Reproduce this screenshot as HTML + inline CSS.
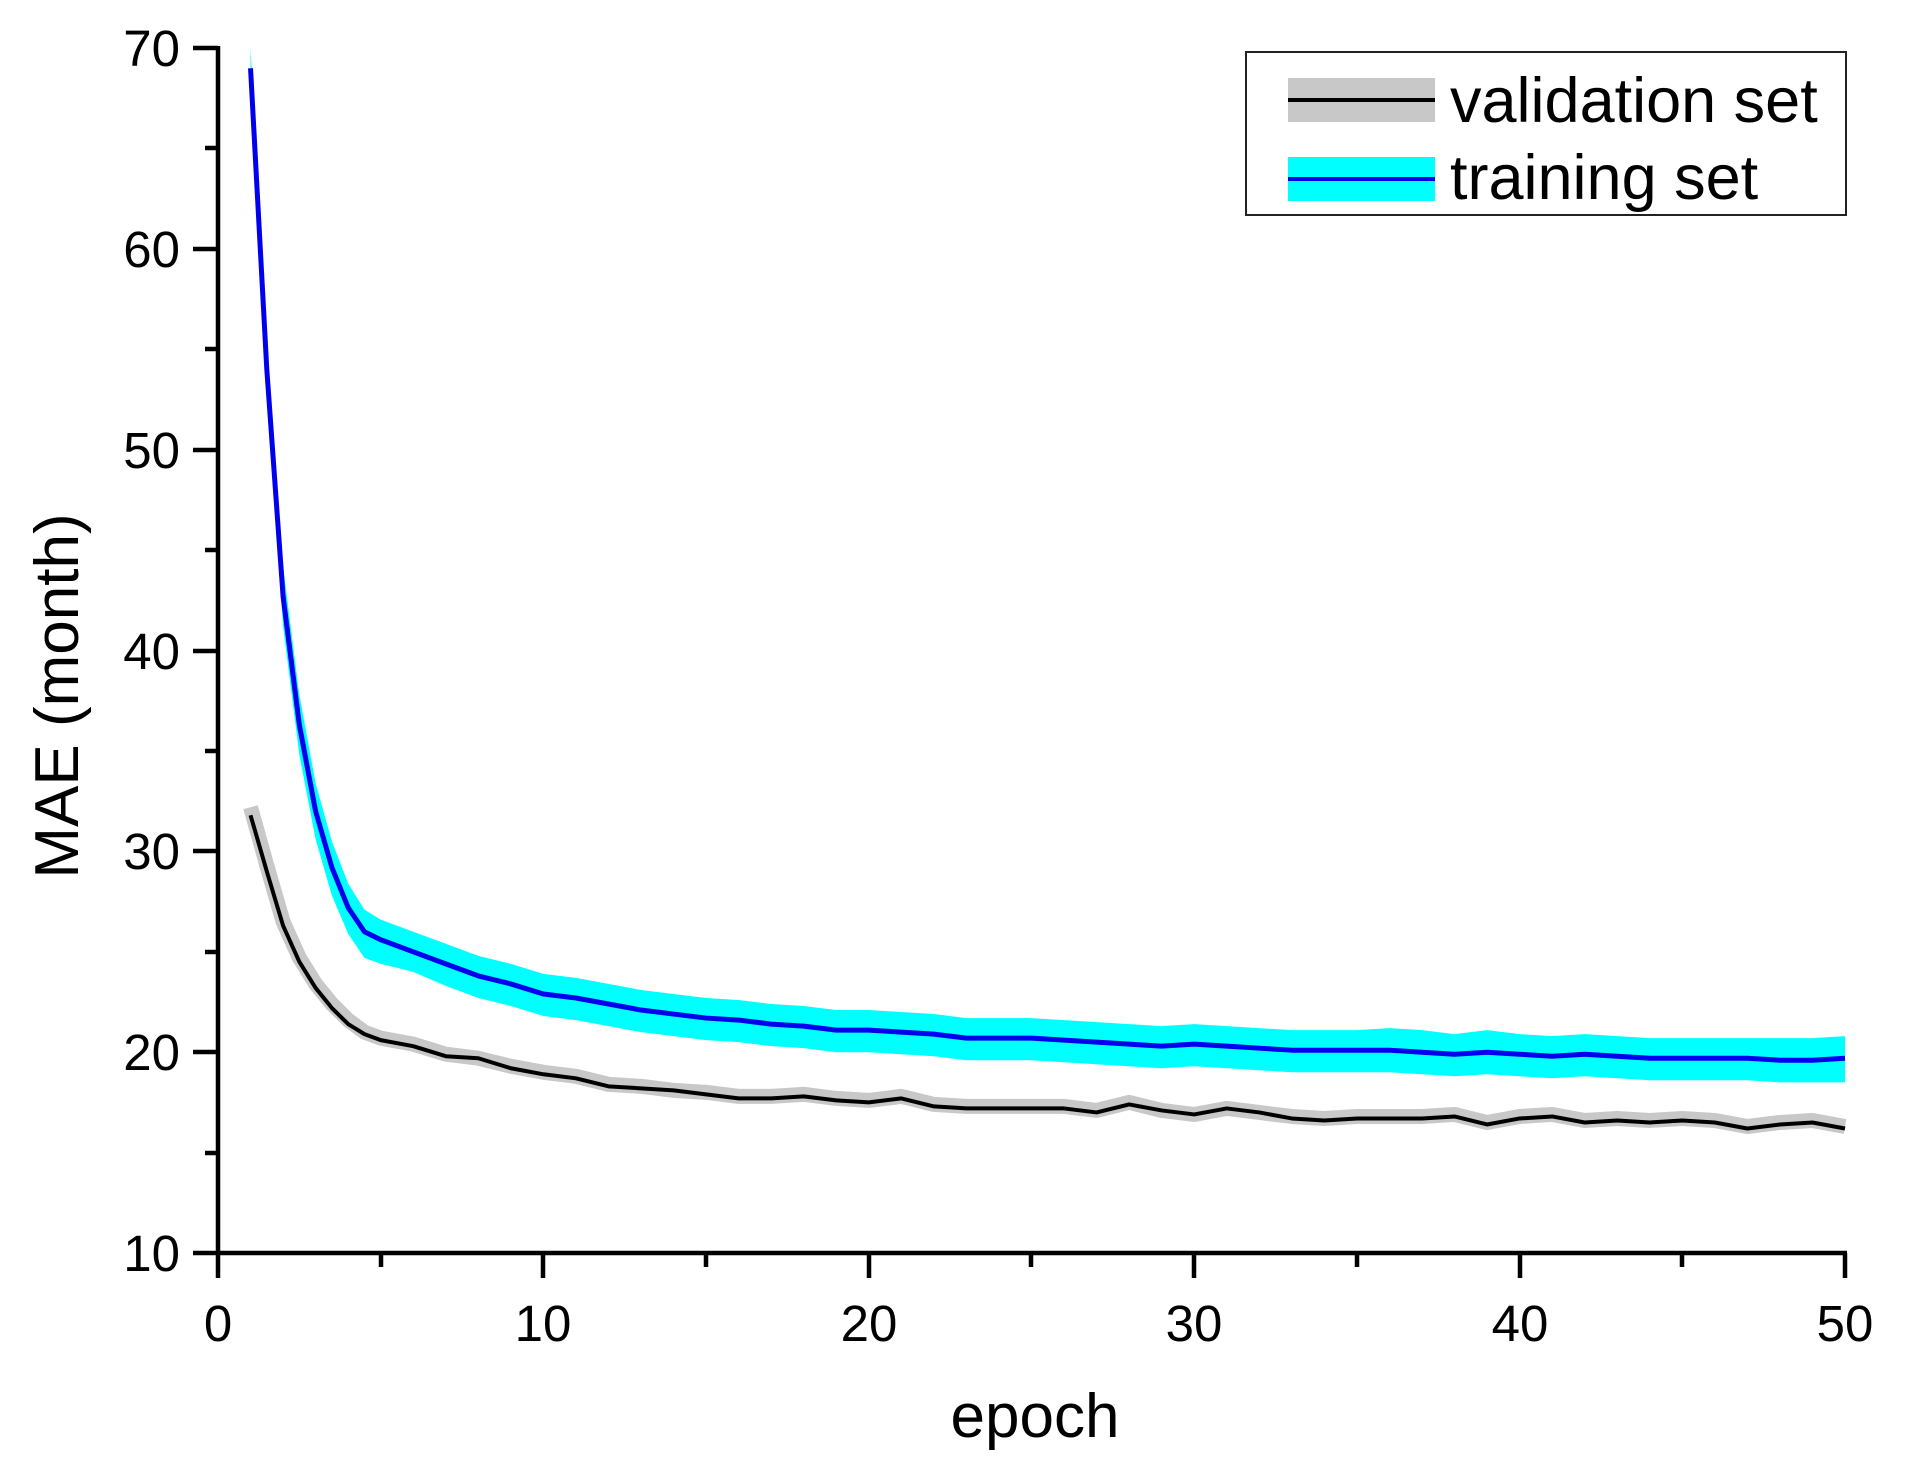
<!DOCTYPE html>
<html><head><meta charset="utf-8"><style>
html,body{margin:0;padding:0;background:#fff}
svg{display:block}
text{font-family:"Liberation Sans",Arial,sans-serif;fill:#000}
</style></head><body>
<svg width="1910" height="1473" viewBox="0 0 1910 1473" xmlns="http://www.w3.org/2000/svg">
<g transform="translate(218,1253) scale(32.54,-20.08) translate(0,-10)">
<polygon fill="#00ffff" stroke="none" points="1,70 1.5,55.5 2,44.2 2.5,37.8 3,33.4 3.5,30.5 4,28.4 4.5,27.1 5,26.6 6,26 7,25.4 8,24.8 9,24.4 10,23.9 11,23.7 12,23.4 13,23.1 14,22.9 15,22.7 16,22.6 17,22.4 18,22.3 19,22.1 20,22.1 21,22 22,21.9 23,21.7 24,21.7 25,21.7 26,21.6 27,21.5 28,21.4 29,21.3 30,21.4 31,21.3 32,21.2 33,21.1 34,21.1 35,21.1 36,21.2 37,21.1 38,20.9 39,21.1 40,20.9 41,20.8 42,20.9 43,20.8 44,20.7 45,20.7 46,20.7 47,20.7 48,20.7 49,20.7 50,20.8 50,18.5 49,18.5 48,18.5 47,18.6 46,18.6 45,18.6 44,18.6 43,18.7 42,18.8 41,18.7 40,18.8 39,18.9 38,18.8 37,18.9 36,19 35,19 34,19 33,19 32,19.1 31,19.2 30,19.3 29,19.2 28,19.3 27,19.4 26,19.5 25,19.6 24,19.6 23,19.6 22,19.8 21,19.9 20,20 19,20 18,20.2 17,20.3 16,20.5 15,20.6 14,20.8 13,21 12,21.3 11,21.6 10,21.8 9,22.3 8,22.7 7,23.3 6,24 5,24.4 4.5,24.7 4,25.9 3.5,27.8 3,30.6 2.5,34.8 2,41.2 1.5,52.5 1,68"/>
<polyline fill="none" stroke="#0000ee" stroke-width="5" vector-effect="non-scaling-stroke" stroke-linejoin="round" points="1,69 1.5,54 2,42.7 2.5,36.3 3,32 3.5,29.2 4,27.2 4.5,26 5,25.6 6,25 7,24.4 8,23.8 9,23.4 10,22.9 11,22.7 12,22.4 13,22.1 14,21.9 15,21.7 16,21.6 17,21.4 18,21.3 19,21.1 20,21.1 21,21 22,20.9 23,20.7 24,20.7 25,20.7 26,20.6 27,20.5 28,20.4 29,20.3 30,20.4 31,20.3 32,20.2 33,20.1 34,20.1 35,20.1 36,20.1 37,20 38,19.9 39,20 40,19.9 41,19.8 42,19.9 43,19.8 44,19.7 45,19.7 46,19.7 47,19.7 48,19.6 49,19.6 50,19.7"/>
<polyline fill="none" stroke="#c8c8c8" stroke-width="15" vector-effect="non-scaling-stroke" stroke-linejoin="round" points="1,32.2 1.5,29.3 2,26.5 2.5,24.7 3,23.4 3.5,22.4 4,21.6 4.5,21 5,20.7 6,20.4 7,19.9 8,19.7 9,19.3 10,19 11,18.8 12,18.4 13,18.3 14,18.1 15,18 16,17.8 17,17.8 18,17.9 19,17.7 20,17.6 21,17.8 22,17.4 23,17.3 24,17.3 25,17.3 26,17.3 27,17.1 28,17.5 29,17.1 30,16.9 31,17.2 32,17 33,16.8 34,16.7 35,16.8 36,16.8 37,16.8 38,16.9 39,16.5 40,16.8 41,16.9 42,16.6 43,16.7 44,16.6 45,16.7 46,16.6 47,16.3 48,16.5 49,16.6 50,16.3"/>
<polyline fill="none" stroke="#000" stroke-width="4" vector-effect="non-scaling-stroke" stroke-linejoin="round" points="1,31.8 1.5,29 2,26.3 2.5,24.5 3,23.2 3.5,22.2 4,21.4 4.5,20.9 5,20.6 6,20.3 7,19.8 8,19.7 9,19.2 10,18.9 11,18.7 12,18.3 13,18.2 14,18.1 15,17.9 16,17.7 17,17.7 18,17.8 19,17.6 20,17.5 21,17.7 22,17.3 23,17.2 24,17.2 25,17.2 26,17.2 27,17 28,17.4 29,17.1 30,16.9 31,17.2 32,17 33,16.7 34,16.6 35,16.7 36,16.7 37,16.7 38,16.8 39,16.4 40,16.7 41,16.8 42,16.5 43,16.6 44,16.5 45,16.6 46,16.5 47,16.2 48,16.4 49,16.5 50,16.2"/>
</g>
<g stroke="#000" stroke-width="4.5" fill="none">
<line x1="218" y1="46" x2="218" y2="1255"/>
<line x1="216" y1="1253" x2="1847" y2="1253"/>
<path d="M193 48H218 M193 249H218 M193 450H218 M193 651H218 M193 851H218 M193 1052H218 M193 1253H218"/>
<path d="M205 148H218 M205 349H218 M205 550H218 M205 751H218 M205 952H218 M205 1153H218"/>
<path d="M218 1253V1278 M543 1253V1278 M869 1253V1278 M1194 1253V1278 M1520 1253V1278 M1845 1253V1278"/>
<path d="M381 1253V1267 M706 1253V1267 M1031 1253V1267 M1357 1253V1267 M1682 1253V1267"/>
</g>
<g font-size="51" text-anchor="end">
<text x="180" y="66">70</text><text x="180" y="267">60</text><text x="180" y="468">50</text><text x="180" y="669">40</text><text x="180" y="869">30</text><text x="180" y="1070">20</text><text x="180" y="1271">10</text>
</g>
<g font-size="51" text-anchor="middle">
<text x="218" y="1341">0</text><text x="543" y="1341">10</text><text x="869" y="1341">20</text><text x="1194" y="1341">30</text><text x="1520" y="1341">40</text><text x="1845" y="1341">50</text>
</g>
<text x="1035" y="1437" font-size="62" text-anchor="middle">epoch</text>
<text transform="translate(78,696) rotate(-90)" font-size="62" text-anchor="middle">MAE (month)</text>
<rect x="1246" y="52" width="600" height="163" fill="#fff" stroke="#222" stroke-width="2"/>
<rect x="1288" y="78" width="147" height="44" fill="#c8c8c8"/>
<line x1="1288" y1="100" x2="1435" y2="100" stroke="#000" stroke-width="4"/>
<rect x="1288" y="157" width="147" height="44" fill="#00ffff"/>
<line x1="1288" y1="179" x2="1435" y2="179" stroke="#0000ee" stroke-width="4"/>
<text x="1450" y="122" font-size="63">validation set</text>
<text x="1450" y="199" font-size="63">training set</text>
</svg>
</body></html>
